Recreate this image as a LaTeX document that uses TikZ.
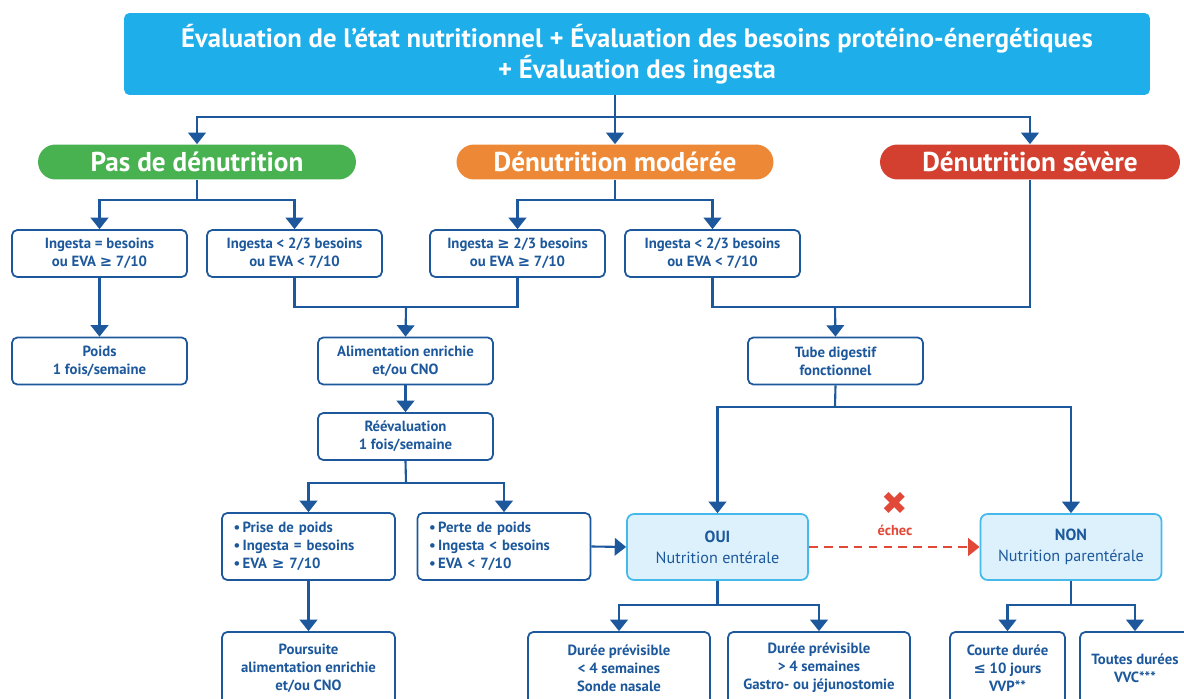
\documentclass[tikz,border=0pt]{standalone}
\usepackage{fontspec}
\setmainfont{PT Sans}
\newfontfamily\dejavu{DejaVu Sans}
\usetikzlibrary{arrows.meta}

\definecolor{dblue}{RGB}{28,88,155}
\definecolor{topcyan}{RGB}{30,174,234}
\definecolor{pasgreen}{RGB}{72,178,80}
\definecolor{modorange}{RGB}{237,137,54}
\definecolor{sevred}{RGB}{211,64,48}
\definecolor{lightcyan}{RGB}{221,241,252}
\definecolor{cyanborder}{RGB}{70,185,235}
\definecolor{failred}{RGB}{226,72,56}

\newcommand{\gesign}{{\dejavu\bfseries ≥}}
\newcommand{\lesign}{{\dejavu\bfseries ≤}}

\tikzset{
  box/.style={draw=dblue, line width=1pt, rounded corners=3pt, fill=white,
    text=dblue, align=center, inner sep=2pt,
    font=\bfseries\fontsize{8.4}{10.2}\selectfont,
    minimum width=3.5cm, minimum height=0.94cm},
  bulletbox/.style={box, align=left, text width=3.0cm, inner xsep=0.22cm,
    minimum width=3.46cm, minimum height=1.34cm},
  choice/.style={draw=cyanborder, line width=1pt, rounded corners=4pt,
    fill=lightcyan, text=dblue, align=center,
    font=\fontsize{9.2}{12}\selectfont,
    minimum width=3.62cm, minimum height=1.32cm},
  header/.style={rounded corners=0.35cm, text=white, minimum height=0.7cm,
    font=\bfseries\fontsize{15.5}{17}\selectfont},
  line/.style={draw=dblue, line width=1.2pt},
  arr/.style={line, -{Triangle[width=10pt,length=6.5pt]}},
}

\begin{document}
\begin{tikzpicture}[x=0.02cm,y=-0.02cm]
  \useasboundingbox (0,0) rectangle (1184,699);
  \clip (0,0) rectangle (1184,699);

  % top evaluation
  \node[fill=topcyan, rounded corners=3pt, text=white, align=center,
    font=\bfseries\fontsize{15.2}{17.5}\selectfont,
    minimum width=20.52cm, minimum height=1.64cm] (top) at (637,54)
    {Évaluation de l’état nutritionnel + Évaluation des besoins protéino-énergétiques\\+ Évaluation des ingesta};

  % three grades
  \node[header, fill=pasgreen, minimum width=6.36cm] (hpas) at (197,162) {Pas de dénutrition};
  \node[header, fill=modorange, minimum width=6.34cm] (hmod) at (615,162) {Dénutrition modérée};
  \node[header, fill=sevred, minimum width=6.0cm] (hsev) at (1030,162) {Dénutrition sévère};

  % ingesta
  \node[box] (b1) at (99.5,253.5) {Ingesta = besoins\\ou EVA \gesign{} 7/10};
  \node[box] (b2) at (294.5,253.5) {Ingesta < 2/3 besoins\\ou EVA < 7/10};
  \node[box] (b3) at (517.5,253.5) {Ingesta \gesign{} 2/3 besoins\\ou EVA \gesign{} 7/10};
  \node[box] (b4) at (712.5,253.5) {Ingesta < 2/3 besoins\\ou EVA < 7/10};

  \node[box] (poids) at (99.5,361) {Poids\\1 fois/semaine};
  \node[box] (alim) at (405.5,361) {Alimentation enrichie\\et/ou CNO};
  \node[box] (tube) at (835.5,361) {Tube digestif\\fonctionnel};
  \node[box] (reeval) at (405.5,436.5) {Réévaluation\\1 fois/semaine};

  \node[bulletbox] (prise) at (308.5,546.5)
    {\textbullet\,Prise de poids\\\textbullet\,Ingesta = besoins\\\textbullet\,EVA \gesign{} 7/10};
  \node[bulletbox] (perte) at (504,546.5)
    {\textbullet\,Perte de poids\\\textbullet\,Ingesta < besoins\\\textbullet\,EVA < 7/10};

  \node[choice] (oui) at (717.5,547) {\textbf{OUI}\\Nutrition entérale};
  \node[choice] (non) at (1071,547) {\textbf{NON}\\Nutrition parentérale};

  \node[box, minimum width=3.46cm, minimum height=1.44cm] (suite) at (308.5,668)
    {Poursuite\\alimentation enrichie\\et/ou CNO};
  \node[box, minimum width=3.64cm, minimum height=1.44cm] (d1) at (619,668)
    {Durée prévisible\\< 4 semaines\\Sonde nasale};
  \node[box, minimum width=3.64cm, minimum height=1.44cm] (d2) at (819,668)
    {Durée prévisible\\> 4 semaines\\Gastro- ou jéjunostomie};
  \node[box, minimum width=2.3cm, minimum height=1.44cm] (courte) at (1007.5,668)
    {Courte durée\\\lesign{} 10 jours\\VVP**};
  \node[box, minimum width=2.2cm, minimum height=1.44cm] (toutes) at (1135,668)
    {Toutes durées\\VVC***};

  % failure mark
  \node[text=failred, font=\dejavu\bfseries\fontsize{18}{18}\selectfont] (xmark) at (895,503) {✖};
  \node[text=failred, font=\bfseries\fontsize{8.2}{9}\selectfont] (echec) at (895,530) {échec};

  % junctions
  \coordinate (j0) at (615,117);
  \coordinate (j1) at (197,200);
  \coordinate (j2) at (615,200);
  \coordinate (j3) at (406,307);
  \coordinate (j4) at (835,307);
  \coordinate (j5) at (406,483);
  \coordinate (j6) at (835,407);
  \coordinate (j7) at (717.5,605);
  \coordinate (j8) at (1071,605);

  \draw[line] (top.south -| j0) -- (j0);
  \draw[arr] (j0) -| (hpas.north);
  \draw[arr] (j0) -- (hmod.north);
  \draw[arr] (j0) -| (hsev.north);

  \draw[line] (hpas.south) -- (j1);
  \draw[arr] (j1) -| (b1.north);
  \draw[arr] (j1) -| (b2.north);
  \draw[line] (hmod.south) -- (j2);
  \draw[arr] (j2) -| (b3.north);
  \draw[arr] (j2) -| (b4.north);

  \draw[arr] (b1.south) -- (poids.north);
  \draw[line] (b2.south) |- (j3) -| (b3.south);
  \draw[arr] (j3) -- (alim.north);
  \draw[line] (b4.south) |- (j4) -| (hsev.south);
  \draw[arr] (j4) -- (tube.north);

  \draw[arr] (alim.south) -- (reeval.north);
  \draw[line] (reeval.south) -- (j5);
  \draw[arr] (j5) -| (prise.north);
  \draw[arr] (j5) -| (perte.north);
  \draw[arr] (prise.south) -- (suite.north);
  \draw[arr] (perte.east) -- (oui.west);

  \draw[line] (tube.south) -- (j6);
  \draw[arr] (j6) -| (oui.north);
  \draw[arr] (j6) -| (non.north);
  \draw[failred, line width=1.2pt, dashed, dash pattern=on 5pt off 3.5pt,
    -{Triangle[width=10pt,length=6.5pt]}] (oui.east) -- (non.west);

  \draw[line] (oui.south) -- (j7);
  \draw[arr] (j7) -| (d1.north);
  \draw[arr] (j7) -| (d2.north);
  \draw[line] (non.south) -- (j8);
  \draw[arr] (j8) -| (courte.north);
  \draw[arr] (j8) -| (toutes.north);
\end{tikzpicture}
\end{document}
